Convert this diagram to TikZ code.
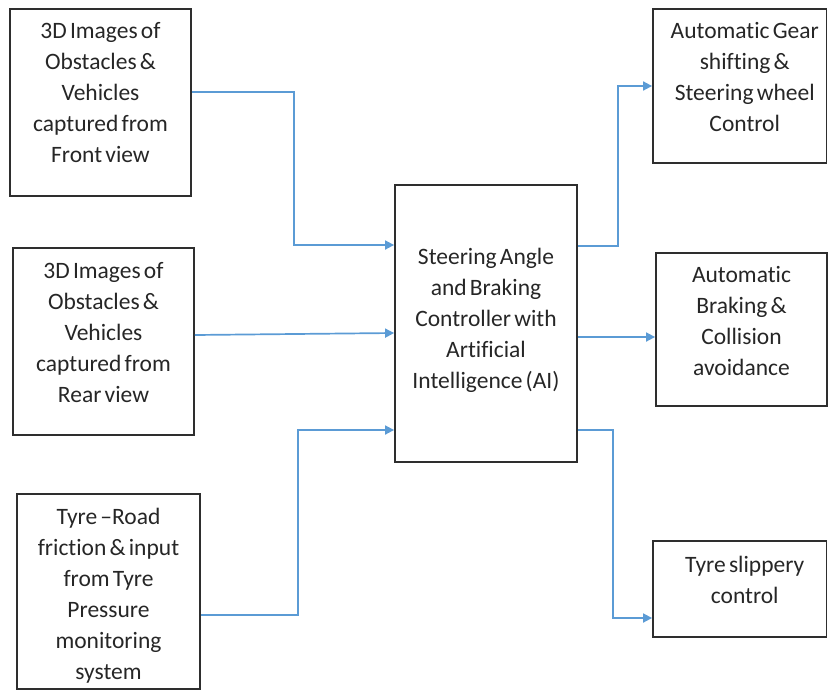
\documentclass[tikz,border=0pt]{standalone}
\usepackage{fontspec}
\setmainfont{Carlito}[Ligatures=NoCommon, WordSpace=0.6]
\usetikzlibrary{arrows.meta}
\definecolor{linkblue}{HTML}{5B9BD5}
\definecolor{boxline}{HTML}{2E2E2E}
\tikzset{
  blk/.style={draw=boxline, line width=1.8pt, rectangle, inner sep=0pt},
  txt/.style={anchor=north, align=center, inner sep=0pt,
    font=\fontsize{23.5pt}{31pt}\selectfont, text=black!85},
  arr/.style={draw=linkblue, line width=1.7pt,
    -{Triangle[length=9pt,width=9pt]}},
}
\begin{document}
\begin{tikzpicture}[x=1pt,y=-1pt]
\useasboundingbox (0,0) rectangle (828,691);
% input blocks
\node[blk, minimum width=181pt, minimum height=187pt] (b1) at (100.5,102.5) {};
\node[blk, minimum width=181pt, minimum height=187pt] (b2) at (103.5,341.5) {};
\node[blk, minimum width=183pt, minimum height=195pt] (b3) at (108.5,591.5) {};
% controller
\node[blk, minimum width=182pt, minimum height=277pt] (c) at (486,323.5) {};
% output blocks
\node[blk, minimum width=173.5pt, minimum height=154pt] (r1) at (739.75,86) {};
\node[blk, minimum width=171pt, minimum height=153pt] (r2) at (741.5,329.5) {};
\node[blk, minimum width=173.5pt, minimum height=96pt] (r3) at (739.75,589) {};
% texts
\node[txt] (t1) at ([yshift=-14pt]b1.north) {3D Images of\\Obstacles \&\\Vehicles\\captured from\\Front view};
\node[txt] (t2) at ([yshift=-15pt]b2.north) {3D Images of\\Obstacles \&\\Vehicles\\captured from\\Rear view};
\node[txt] (t3) at ([yshift=-15pt]b3.north) {Tyre –Road\\friction \& input\\from Tyre\\Pressure\\monitoring\\system};
\node[txt] (tc) at ([yshift=-64pt]c.north) {Steering Angle\\and Braking\\Controller with\\Artificial\\Intelligence (AI)};
\node[txt] (tr1) at ([xshift=5pt,yshift=-14pt]r1.north) {Automatic Gear\\shifting \&\\Steering wheel\\Control};
\node[txt] (tr2) at ([yshift=-14pt]r2.north) {Automatic\\Braking \&\\Collision\\avoidance};
\node[txt] (tr3) at ([xshift=5pt,yshift=-16pt]r3.north) {Tyre slippery\\control};
% connectors into the controller
\draw[arr] ([yshift=10.5pt]b1.east) -- ++(102,0) |- ([yshift=78.5pt]c.west);
\draw[arr] ([yshift=6.5pt]b2.east) -- ([yshift=-9.5pt]c.west);
\draw[arr] ([yshift=-23.5pt]b3.east) -- ++(97,0) |- ([yshift=-106.5pt]c.west);
% connectors out of the controller
\draw[arr] ([yshift=77.5pt]c.east) -- ++(40,0) |- (r1.west);
\draw[arr] ([yshift=-13.5pt]c.east) -- ([yshift=-7.5pt]r2.west);
\draw[arr] ([yshift=-106.5pt]c.east) -- ++(35,0) |- ([yshift=-29pt]r3.west);
\end{tikzpicture}
\end{document}
